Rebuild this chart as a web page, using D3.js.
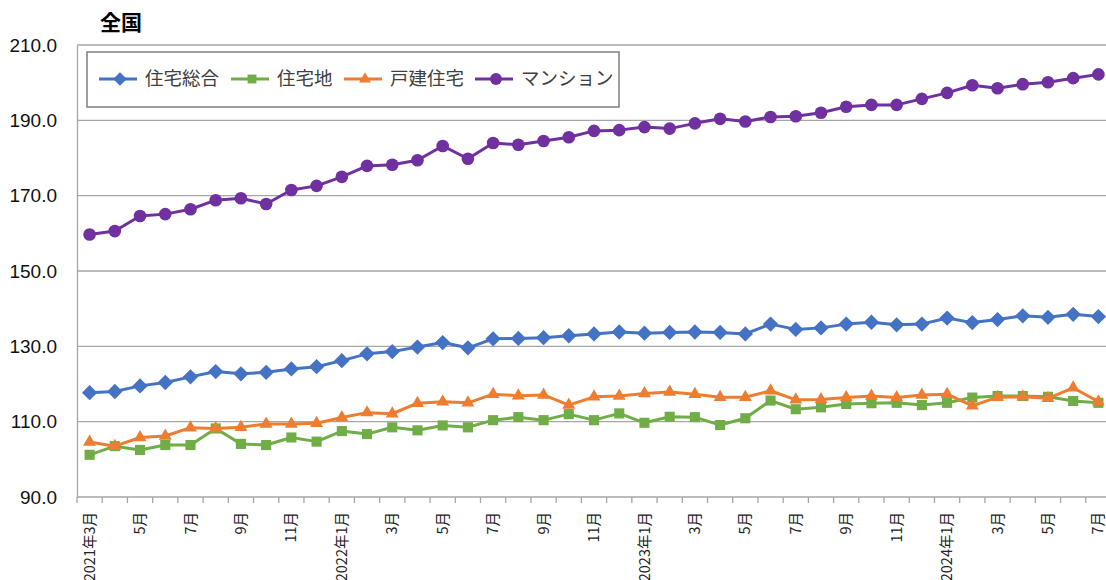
<!DOCTYPE html>
<html>
<head>
<meta charset="utf-8">
<script src="https://cdn.jsdelivr.net/npm/d3@7"></script>
<style>
  html, body { margin: 0; padding: 0; background: #fff; }
  svg { display: block; font-family: "Noto Sans CJK JP", "Noto Sans", sans-serif; }
</style>
</head>
<body>
<svg id="chart" width="1106" height="580"></svg>
<script>
// Monthly index values, 2021年3月 – 2024年7月
const months = [
  "2021年3月","4月","5月","6月","7月","8月","9月","10月","11月","12月",
  "2022年1月","2月","3月","4月","5月","6月","7月","8月","9月","10月","11月","12月",
  "2023年1月","2月","3月","4月","5月","6月","7月","8月","9月","10月","11月","12月",
  "2024年1月","2月","3月","4月","5月","6月","7月"
];

const sogo = [117.7,118.0,119.5,120.4,121.9,123.3,122.7,123.1,124.0,124.6,126.2,128.0,128.6,129.8,131.0,129.6,132.0,132.1,132.3,132.8,133.3,133.8,133.5,133.7,133.8,133.7,133.3,135.9,134.5,134.9,135.9,136.4,135.7,135.9,137.5,136.3,137.1,138.1,137.7,138.5,137.9];
const takuchi = [101.2,103.5,102.5,103.8,103.8,108.2,104.1,103.8,105.8,104.7,107.5,106.7,108.5,107.7,109.0,108.5,110.4,111.2,110.4,112.0,110.4,112.2,109.7,111.3,111.2,109.1,110.9,115.6,113.3,113.8,114.7,114.9,115.0,114.4,115.0,116.4,116.8,116.8,116.6,115.5,115.0];
const kodate = [104.6,103.5,105.8,106.2,108.4,108.2,108.5,109.4,109.4,109.6,111.1,112.4,112.1,114.9,115.3,115.0,117.3,116.9,117.1,114.4,116.6,116.8,117.5,117.9,117.3,116.5,116.5,118.2,115.8,115.9,116.4,116.8,116.4,117.1,117.3,114.2,116.5,116.6,116.2,119.0,115.3];
const mansion = [159.7,160.6,164.6,165.1,166.4,168.8,169.3,167.8,171.5,172.6,175.0,177.9,178.2,179.4,183.2,179.8,184.0,183.5,184.5,185.5,187.2,187.4,188.2,187.8,189.2,190.4,189.7,190.9,191.1,192.0,193.6,194.1,194.1,195.7,197.3,199.3,198.5,199.6,200.1,201.2,202.2];

const yTicks = [90, 110, 130, 150, 170, 190, 210];

const seriesNames = ["住宅総合", "住宅地", "戸建住宅", "マンション"];
const seriesColors = ["#4472C4", "#70AD47", "#ED7D31", "#7030A0"];
const seriesSymbols = [d3.symbolDiamond2, d3.symbolSquare2, d3.symbolTriangle2, d3.symbolCircle];
const seriesValues = [sogo, takuchi, kodate, mansion];

const series = seriesNames.map((name, i) => ({
  name, color: seriesColors[i], symbol: seriesSymbols[i], values: seriesValues[i]
}));

const svg = d3.select("#chart");
const plot = { left: 77, top: 45, bottom: 497, step: 25.22 };

const x = d3.scaleBand()
  .domain(d3.range(months.length))
  .range([plot.left, plot.left + plot.step * months.length])
  .padding(0);
const y = d3.scaleLinear().domain([90, 210]).range([plot.bottom, plot.top]);
const cx = i => x(i) + x.bandwidth() / 2;

// Horizontal gridlines
svg.append("g")
  .selectAll("line")
  .data(yTicks.slice(1))
  .join("line")
  .attr("x1", plot.left).attr("x2", 1106)
  .attr("y1", d => y(d)).attr("y2", d => y(d))
  .attr("stroke", "#a6a6a6").attr("stroke-width", 1.3);

// Y axis
const yAxis = svg.append("g")
  .attr("transform", `translate(${plot.left},0)`)
  .call(d3.axisLeft(y).tickValues(yTicks).tickFormat(d3.format(".1f")).tickSize(0).tickPadding(20));
yAxis.select(".domain").attr("stroke", "#a6a6a6").attr("stroke-width", 1.3);
yAxis.selectAll("text").attr("font-size", 19).attr("fill", "#111")
  .attr("font-family", "'Liberation Sans', 'Noto Sans', sans-serif");

// X axis: ticks between months, labels on odd months
const xAxis = svg.append("g").attr("transform", `translate(0,${plot.bottom})`);
xAxis.append("line")
  .attr("x1", plot.left).attr("x2", 1106)
  .attr("stroke", "#a6a6a6").attr("stroke-width", 1.3);
xAxis.selectAll("line.tick")
  .data(d3.range(months.length + 1))
  .join("line")
  .attr("class", "tick")
  .attr("x1", i => plot.left + i * x.step()).attr("x2", i => plot.left + i * x.step())
  .attr("y1", 0).attr("y2", 6)
  .attr("stroke", "#a6a6a6").attr("stroke-width", 1.3);
xAxis.selectAll("text")
  .data(d3.range(0, months.length, 2))
  .join("text")
  .attr("transform", i => `translate(${cx(i)},15) rotate(-90)`)
  .attr("text-anchor", "end")
  .attr("dy", "0.35em")
  .attr("font-size", 14.5)
  .attr("fill", "#222")
  .text(i => months[i]);

// Lines and markers
const line = d3.line().x((d, i) => cx(i)).y(d => y(d));
series.forEach(s => {
  const g = svg.append("g");
  g.append("path")
    .datum(s.values)
    .attr("d", line)
    .attr("fill", "none")
    .attr("stroke", s.color)
    .attr("stroke-width", 3)
    .attr("stroke-linejoin", "round");
  const size = s.symbol === d3.symbolCircle ? 125 : s.symbol === d3.symbolTriangle2 ? 120 : s.symbol === d3.symbolDiamond2 ? 150 : 130;
  g.selectAll("path.m")
    .data(s.values)
    .join("path")
    .attr("class", "m")
    .attr("transform", (d, i) => `translate(${cx(i)},${y(d)})`)
    .attr("d", d3.symbol().type(s.symbol).size(size))
    .attr("fill", s.color);
});

// Title
svg.append("text")
  .attr("x", 100).attr("y", 30)
  .attr("font-size", 21).attr("font-weight", "bold")
  .attr("fill", "#000")
  .text("全国");

// Legend
const legend = svg.append("g");
legend.append("rect")
  .attr("x", 87).attr("y", 52).attr("width", 532).attr("height", 55)
  .attr("fill", "#fff").attr("stroke", "#808080").attr("stroke-width", 1.5);
const legendX = [99, 231, 344, 475];
series.forEach((s, i) => {
  const g = legend.append("g").attr("transform", `translate(${legendX[i]},79)`);
  g.append("line").attr("x1", 0).attr("x2", 38)
    .attr("stroke", s.color).attr("stroke-width", 3);
  const size = s.symbol === d3.symbolCircle ? 110 : s.symbol === d3.symbolTriangle2 ? 100 : s.symbol === d3.symbolDiamond2 ? 120 : 100;
  g.append("path").attr("transform", "translate(21,0)")
    .attr("d", d3.symbol().type(s.symbol).size(size)).attr("fill", s.color);
  g.append("text").attr("x", 46).attr("dy", "0.35em")
    .attr("font-size", 18.5).attr("fill", "#404040")
    .text(s.name);
});
</script>
</body>
</html>
